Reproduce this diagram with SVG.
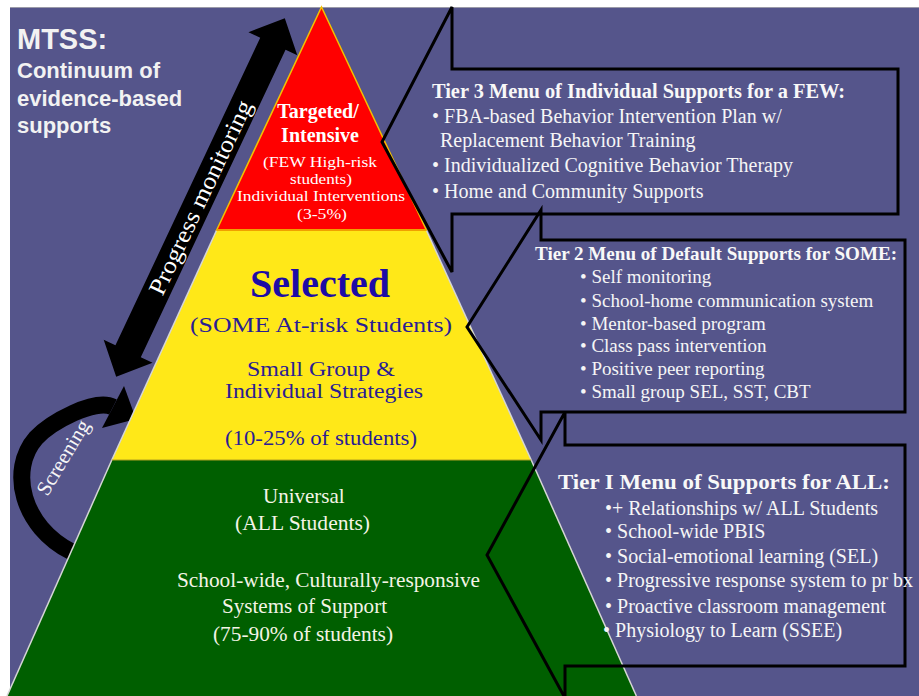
<svg xmlns="http://www.w3.org/2000/svg" width="919" height="696" viewBox="0 0 919 696">
<style>
.serif{font-family:"Liberation Serif","Times New Roman",serif}
.sans{font-family:"Liberation Sans",Arial,sans-serif}
.wt{fill:#f6f6f6}
.hd{font-weight:bold;fill:#f8f8f8}
.callout{fill:none;stroke:#000;stroke-width:3;stroke-linejoin:miter}
.blue{fill:#2a1c94}
.cream{fill:#f4f4e6}
</style>
<rect x="0" y="0" width="919" height="696" fill="#ffffff"/>
<g id="background">
<rect x="10" y="7" width="909" height="689" fill="#55558b"/>
<line x1="10" y1="7.5" x2="919" y2="7.5" stroke="#9a9aa8" stroke-width="1"/>
</g>
<g id="connectors">
<g id="screening-arrow">
<path d="M72,552 C22,527 8,470 36,438 C51,422 95,398 113,407" fill="none" stroke="#000" stroke-width="17"/>
<polygon points="102,428 124,386 136,419" fill="#000"/>
<text class="serif wt" font-size="21" text-anchor="middle" transform="translate(69,461) rotate(-59)">Screening</text>
</g>
</g>
<g id="pyramid">
<g id="tier1-universal">
<polygon points="111.8,460 531.2,460 636.4,696 7,696" fill="#005f00"/>
<line x1="111.8" y1="460" x2="7" y2="696" stroke="#d6d6d6" stroke-width="1.5"/>
<line x1="531.2" y1="460" x2="636.4" y2="696" stroke="#d6d6d6" stroke-width="1.5"/>
<text class="serif cream" font-size="21" x="263" y="503">Universal</text>
<text class="serif cream" font-size="21" x="235" y="530" textLength="135" lengthAdjust="spacingAndGlyphs">(ALL Students)</text>
<text class="serif cream" font-size="21" x="177" y="587" textLength="303" lengthAdjust="spacingAndGlyphs">School-wide, Culturally-responsive</text>
<text class="serif cream" font-size="21" x="222" y="613" textLength="165" lengthAdjust="spacingAndGlyphs">Systems  of Support</text>
<text class="serif cream" font-size="21" x="213" y="641" textLength="180" lengthAdjust="spacingAndGlyphs">(75-90% of students)</text>
</g>
<g id="tier2-selected">
<polygon points="216.7,230 426.3,230 531.2,460 111.8,460" fill="#ffe818"/>
<line x1="216.7" y1="230" x2="111.8" y2="460" stroke="#d6d6d6" stroke-width="1.5"/>
<line x1="426.3" y1="230" x2="531.2" y2="460" stroke="#d6d6d6" stroke-width="1.5"/>
<line x1="111.8" y1="460" x2="531.2" y2="460" stroke="#b0a020" stroke-width="1"/>
<text class="serif" font-size="40" font-weight="bold" fill="#1d0ca5" x="320" y="297" text-anchor="middle">Selected</text>
<text class="serif blue" font-size="22" x="190" y="332" textLength="262" lengthAdjust="spacingAndGlyphs">(SOME At-risk Students)</text>
<text class="serif blue" font-size="20" x="247" y="376" textLength="148" lengthAdjust="spacingAndGlyphs">Small Group &amp;</text>
<text class="serif blue" font-size="20" x="225" y="398" textLength="198" lengthAdjust="spacingAndGlyphs">Individual  Strategies</text>
<text class="serif blue" font-size="22" x="225" y="445" textLength="192" lengthAdjust="spacingAndGlyphs">(10-25% of students)</text>
</g>
<g id="tier3-targeted">
<polygon points="321.5,7 426.3,230 216.7,230" fill="#ff0000" stroke="#f2c200" stroke-width="1.5"/>
<line x1="216.7" y1="230" x2="426.3" y2="230" stroke="#f0a000" stroke-width="2"/>
<text class="serif" font-size="20" font-weight="bold" fill="#fff" x="318" y="118" text-anchor="middle">Targeted/</text>
<text class="serif" font-size="20" font-weight="bold" fill="#fff" x="320" y="142" text-anchor="middle">Intensive</text>
<text class="serif" font-size="15" fill="#fff" x="320" y="167" text-anchor="middle" textLength="114" lengthAdjust="spacingAndGlyphs">(FEW High-risk</text>
<text class="serif" font-size="15" fill="#fff" x="321" y="184" text-anchor="middle" textLength="62" lengthAdjust="spacingAndGlyphs">students)</text>
<text class="serif" font-size="15" fill="#fff" x="321" y="201" text-anchor="middle" textLength="168" lengthAdjust="spacingAndGlyphs">Individual  Interventions</text>
<text class="serif" font-size="15" fill="#fff" x="322" y="219" text-anchor="middle" textLength="50" lengthAdjust="spacingAndGlyphs">(3-5%)</text>
</g>
</g>
<g id="progress-monitoring-arrow" transform="translate(200.5,197.5) rotate(-64.8)">
<polygon points="-198,0 -170,-27 -170,-14 170,-14 170,-27 198,0 170,27 170,14 -170,14 -170,27" fill="#000"/>
<text class="serif" font-size="24" fill="#fff" x="0" y="8" text-anchor="middle" textLength="212" lengthAdjust="spacingAndGlyphs">Progress monitoring</text>
</g>
<g id="title">
<text class="sans" font-size="29" font-weight="bold" fill="#f2f2f2" x="17" y="49">MTSS:</text>
<text class="sans" font-size="22" font-weight="bold" fill="#f2f2f2" x="17" y="78">Continuum of</text>
<text class="sans" font-size="22" font-weight="bold" fill="#f2f2f2" x="17" y="106">evidence-based</text>
<text class="sans" font-size="22" font-weight="bold" fill="#f2f2f2" x="17" y="133">supports</text>
</g>
<g id="callout-tier3">
<path class="callout" d="M452,7 L452,69 L898,69 L898,214 L452,214 L452,272 L382,142 Z"/>
<text class="serif hd" font-size="20" x="432" y="98" textLength="413" lengthAdjust="spacingAndGlyphs">Tier 3 Menu of Individual Supports for a FEW:</text>
<text class="serif wt" font-size="20" x="432" y="123">• FBA-based Behavior Intervention Plan w/</text>
<text class="serif wt" font-size="20" x="440" y="147">Replacement Behavior Training</text>
<text class="serif wt" font-size="20" x="432" y="172">• Individualized Cognitive Behavior Therapy</text>
<text class="serif wt" font-size="20" x="432" y="198">• Home and Community Supports</text>
</g>
<g id="callout-tier2">
<path class="callout" d="M541,210 L541,240 L905,240 L905,412 L541,412 L541,440 L467,327 Z"/>
<text class="serif hd" font-size="19" x="535" y="260" textLength="362" lengthAdjust="spacingAndGlyphs">Tier 2 Menu of Default Supports for SOME:</text>
<text class="serif wt" font-size="19" x="580" y="283">• Self monitoring</text>
<text class="serif wt" font-size="19" x="580" y="307">• School-home communication system</text>
<text class="serif wt" font-size="19" x="580" y="330">• Mentor-based program</text>
<text class="serif wt" font-size="19" x="580" y="352">• Class pass intervention</text>
<text class="serif wt" font-size="19" x="580" y="375">• Positive peer reporting</text>
<text class="serif wt" font-size="19" x="580" y="398">• Small group SEL, SST, CBT</text>
</g>
<g id="callout-tier1">
<path class="callout" d="M565,412 L565,445 L905,445 L905,666 L565,666 L565,698 L487,555 Z"/>
<text class="serif hd" font-size="22" x="558" y="489" textLength="332" lengthAdjust="spacingAndGlyphs">Tier I Menu of Supports for ALL:</text>
<text class="serif wt" font-size="20" x="605" y="515">•+ Relationships w/ ALL Students</text>
<text class="serif wt" font-size="20" x="605" y="538">• School-wide PBIS</text>
<text class="serif wt" font-size="20" x="605" y="563">• Social-emotional learning (SEL)</text>
<text class="serif wt" font-size="20" x="605" y="587">• Progressive response system to pr bx</text>
<text class="serif wt" font-size="20" x="605" y="613">• Proactive classroom management</text>
<text class="serif wt" font-size="20" x="603" y="637">• Physiology to Learn (SSEE)</text>
</g>
</svg>
